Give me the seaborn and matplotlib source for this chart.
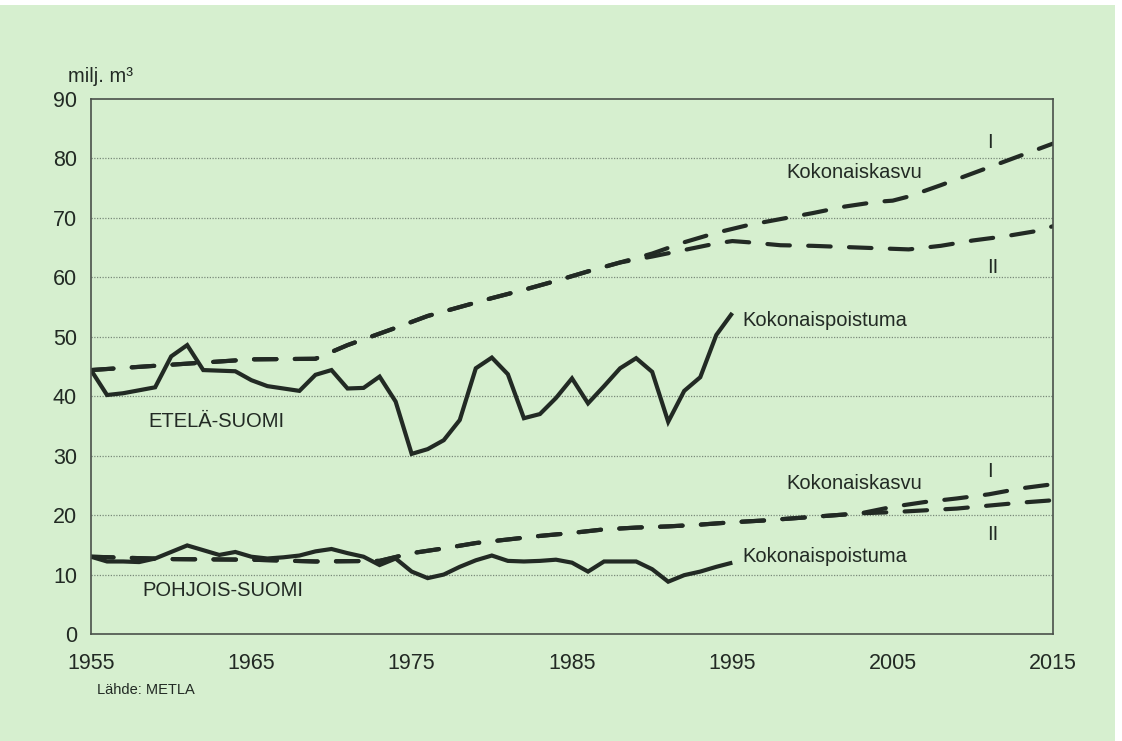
import numpy as np
import pandas as pd
import matplotlib
matplotlib.use("Agg")
import matplotlib.pyplot as plt
from matplotlib.patches import Rectangle
import seaborn as sns

# ---------------- data ----------------
years_hist = list(range(1955, 1996))

etela_poistuma = [44.4, 40.2, 40.5, 41.0, 41.5, 46.7, 48.6, 44.4, 44.3, 44.2,
                  42.7, 41.7, 41.3, 40.9, 43.6, 44.4, 41.3, 41.4, 43.3, 39.1,
                  30.3, 31.1, 32.6, 36.0, 44.7, 46.5, 43.7, 36.3, 37.0, 39.7,
                  43.0, 38.8, 41.7, 44.7, 46.4, 44.1, 35.7, 40.9, 43.2, 50.3,
                  54.0]

pohjois_poistuma = [13.0, 12.2, 12.2, 12.1, 12.7, 13.8, 14.9, 14.1, 13.3, 13.8,
                    13.0, 12.7, 12.9, 13.2, 13.9, 14.3, 13.6, 13.0, 11.6, 12.7,
                    10.5, 9.4, 10.0, 11.3, 12.4, 13.2, 12.3, 12.2, 12.3, 12.5,
                    12.0, 10.5, 12.2, 12.2, 12.2, 10.9, 8.8, 9.9, 10.5, 11.3,
                    12.0]

etela_kasvu_I_years = [1955, 1960, 1965, 1969, 1971, 1974, 1976, 1978, 1980, 1982,
                       1984, 1986, 1988, 1990, 1992, 1994, 1996, 1998, 2000, 2002,
                       2004, 2005, 2006, 2008, 2010, 2012, 2014, 2015]
etela_kasvu_I = [44.4, 45.3, 46.2, 46.3, 48.6, 51.5, 53.5, 55.0, 56.5, 57.9,
                 59.4, 61.0, 62.5, 64.0, 65.9, 67.5, 68.8, 69.8, 70.8, 71.9,
                 72.7, 72.9, 73.6, 75.5, 77.5, 79.5, 81.5, 82.5]

etela_kasvu_II_years = [1955, 1960, 1965, 1969, 1971, 1974, 1976, 1978, 1980, 1982,
                        1984, 1986, 1988, 1990, 1992, 1994, 1995, 1996, 1998, 2000,
                        2002, 2004, 2006, 2008, 2010, 2012, 2014, 2015]
etela_kasvu_II = [44.4, 45.3, 46.2, 46.3, 48.6, 51.5, 53.5, 55.0, 56.5, 57.9,
                  59.4, 61.0, 62.5, 63.5, 64.6, 65.7, 66.1, 65.9, 65.4, 65.3,
                  65.1, 64.9, 64.7, 65.3, 66.2, 66.9, 67.8, 68.6]

pohjois_kasvu_I_years = [1955, 1960, 1965, 1969, 1973, 1975, 1977, 1979, 1981, 1983,
                         1985, 1987, 1989, 1991, 1993, 1995, 1997, 1999, 2001, 2003,
                         2005, 2007, 2009, 2011, 2013, 2015]
pohjois_kasvu_I = [13.0, 12.6, 12.5, 12.2, 12.3, 13.6, 14.4, 15.3, 15.9, 16.5,
                   17.0, 17.6, 17.9, 18.1, 18.4, 18.8, 19.1, 19.5, 19.9, 20.3,
                   21.4, 22.2, 22.8, 23.5, 24.5, 25.2]

pohjois_kasvu_II_years = [1955, 1960, 1965, 1969, 1973, 1975, 1977, 1979, 1981, 1983,
                          1985, 1987, 1989, 1991, 1993, 1995, 1997, 1999, 2001, 2003,
                          2005, 2007, 2009, 2011, 2013, 2015]
pohjois_kasvu_II = [13.0, 12.6, 12.5, 12.2, 12.3, 13.6, 14.4, 15.3, 15.9, 16.5,
                    17.0, 17.6, 17.9, 18.1, 18.4, 18.8, 19.1, 19.5, 19.9, 20.3,
                    20.5, 20.8, 21.1, 21.6, 22.1, 22.5]

x_ticks = [1955, 1965, 1975, 1985, 1995, 2005, 2015]
y_ticks = [0, 10, 20, 30, 40, 50, 60, 70, 80, 90]

# ---------------- style ----------------
BG = "#d6efcf"
INK = "#222a24"
sns.set_theme(style="white")
plt.rcParams["font.family"] = ["Liberation Sans", "DejaVu Sans"]

fig = plt.figure(figsize=(11.22, 7.41), dpi=100)
fig.patch.set_facecolor("white")
fig.patches.append(Rectangle((0, 0), 1115 / 1122, 736 / 741, transform=fig.transFigure,
                             facecolor=BG, edgecolor="none", zorder=-10))

ax = fig.add_axes([91 / 1122, 1 - 634 / 741, (1053 - 91) / 1122, (634 - 99) / 741])
ax.set_facecolor(BG)

lw = 3.0
dash = (0, (5.4, 4.4))

solid_kw = dict(color=INK, linewidth=lw, solid_joinstyle="miter",
                solid_capstyle="butt", legend=False)
dash_kw = dict(color=INK, linewidth=lw, linestyle=dash, dash_capstyle="round",
               legend=False)

df_hist = pd.DataFrame({"year": years_hist, "etela": etela_poistuma,
                        "pohjois": pohjois_poistuma})
sns.lineplot(data=df_hist, x="year", y="etela", ax=ax, **solid_kw)
sns.lineplot(data=df_hist, x="year", y="pohjois", ax=ax, **solid_kw)

sns.lineplot(x=etela_kasvu_II_years, y=etela_kasvu_II, ax=ax, **dash_kw)
sns.lineplot(x=etela_kasvu_I_years, y=etela_kasvu_I, ax=ax, **dash_kw)
sns.lineplot(x=pohjois_kasvu_II_years, y=pohjois_kasvu_II, ax=ax, **dash_kw)
sns.lineplot(x=pohjois_kasvu_I_years, y=pohjois_kasvu_I, ax=ax, **dash_kw)

ax.set_xlim(1955, 2015)
ax.set_ylim(0, 90)
ax.set_xticks(x_ticks)
ax.set_yticks(y_ticks)
ax.set_xticklabels([str(v) for v in x_ticks])
ax.set_yticklabels([str(v) for v in y_ticks])
ax.set_xlabel("")
ax.set_ylabel("")

for g in y_ticks[1:-1]:
    ax.axhline(g, color="#7a8a7a", linewidth=0.9, linestyle=(0, (1, 1.2)), zorder=0.5)

for s in ax.spines.values():
    s.set_color("#4a504a")
    s.set_linewidth(1.2)

ax.tick_params(axis="both", direction="out", length=8, width=1.1, color="#4a504a",
               labelsize=15.5, labelcolor=INK)
ax.tick_params(axis="x", pad=6)
ax.tick_params(axis="y", pad=2)

txt = dict(color=INK, fontsize=14.5, va="center", ha="left")
ax.text(1998.4, 77.6, "Kokonaiskasvu", **txt)
ax.text(2010.9, 82.6, "I", **txt)
ax.text(2010.9, 61.6, "II", **txt)
ax.text(1995.6, 52.8, "Kokonaispoistuma", **txt)
ax.text(1958.6, 35.7, "ETELÄ-SUOMI", **txt)
ax.text(1998.4, 25.4, "Kokonaiskasvu", **txt)
ax.text(2010.9, 27.3, "I", **txt)
ax.text(2010.9, 16.7, "II", **txt)
ax.text(1995.6, 13.0, "Kokonaispoistuma", **txt)
ax.text(1958.2, 7.4, "POHJOIS-SUOMI", **txt)

fig.text(68 / 1122, 1 - 77 / 741, "milj. m³", color=INK, fontsize=14.5,
         ha="left", va="center")
fig.text(97 / 1122, 1 - 690 / 741, "Lähde: METLA", color=INK, fontsize=10.5,
         ha="left", va="center")

fig.savefig("out.png", dpi=100, facecolor=fig.get_facecolor())
